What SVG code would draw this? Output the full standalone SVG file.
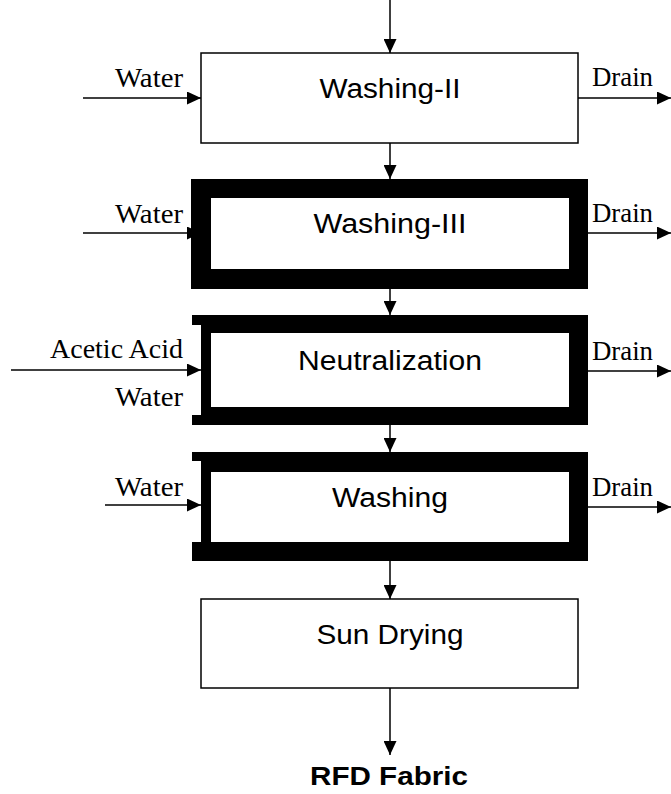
<svg xmlns="http://www.w3.org/2000/svg" width="671" height="794" viewBox="0 0 671 794">
  <style>
    .box { fill: #fff; stroke: #000; stroke-width: 1.5; }
    .thick { fill: #000; fill-rule: evenodd; }
    .flow { stroke: #000; stroke-width: 1.5; fill: none; marker-end: url(#head); }
    .title { font-family: "Liberation Sans", Arial, sans-serif; font-size: 27px; fill: #000; text-anchor: middle; }
    .side { font-family: "Liberation Serif", "Times New Roman", serif; font-size: 27px; fill: #000; }
    .out { font-family: "Liberation Sans", Arial, sans-serif; font-size: 25px; font-weight: bold; fill: #000; text-anchor: middle; }
  </style>
  <defs>
    <marker id="head" markerUnits="userSpaceOnUse" markerWidth="14" markerHeight="13" refX="14" refY="6.5" orient="auto">
      <path d="M0,0 L14,6.5 L0,13 Z" fill="#000"/>
    </marker>
  </defs>

  <rect width="671" height="794" fill="#fff"/>

  <!-- process steps -->
  <g id="washing-ii">
    <rect class="box" x="201" y="53" width="377" height="90"/>
    <text class="title" x="390" y="98" textLength="141" lengthAdjust="spacingAndGlyphs">Washing-II</text>
  </g>

  <g id="washing-iii">
    <path class="thick" d="M191,179 H588 V289 H191 Z M211,198 V269 H569 V198 Z"/>
    <text class="title" x="390" y="233" textLength="153" lengthAdjust="spacingAndGlyphs">Washing-III</text>
  </g>

  <g id="neutralization">
    <path class="thick" d="M192,315 H588 V425 H192 V415 H201 V325 H192 Z M211,333 V407 H569 V333 Z"/>
    <text class="title" x="390" y="370" textLength="184" lengthAdjust="spacingAndGlyphs">Neutralization</text>
  </g>

  <g id="washing">
    <path class="thick" d="M192,452 H588 V561 H192 V542 H201 V461 H192 Z M211,472 V542 H569 V472 Z"/>
    <text class="title" x="390" y="507" textLength="116" lengthAdjust="spacingAndGlyphs">Washing</text>
  </g>

  <g id="sun-drying">
    <rect class="box" x="201" y="599" width="377" height="89"/>
    <text class="title" x="390" y="644" textLength="147" lengthAdjust="spacingAndGlyphs">Sun Drying</text>
  </g>

  <g id="rfd-fabric">
    <text class="out" x="389" y="785" textLength="158" lengthAdjust="spacingAndGlyphs">RFD Fabric</text>
  </g>

  <!-- inputs and outputs -->
  <g id="streams">
    <text class="side" x="183" y="87" text-anchor="end" textLength="68" lengthAdjust="spacingAndGlyphs">Water</text>
    <text class="side" x="592" y="86" textLength="61" lengthAdjust="spacingAndGlyphs">Drain</text>
    <text class="side" x="183" y="223" text-anchor="end" textLength="68" lengthAdjust="spacingAndGlyphs">Water</text>
    <text class="side" x="592" y="222" textLength="61" lengthAdjust="spacingAndGlyphs">Drain</text>
    <text class="side" x="183" y="358" text-anchor="end" textLength="133" lengthAdjust="spacingAndGlyphs">Acetic Acid</text>
    <text class="side" x="183" y="406" text-anchor="end" textLength="68" lengthAdjust="spacingAndGlyphs">Water</text>
    <text class="side" x="592" y="360" textLength="61" lengthAdjust="spacingAndGlyphs">Drain</text>
    <text class="side" x="183" y="496" text-anchor="end" textLength="68" lengthAdjust="spacingAndGlyphs">Water</text>
    <text class="side" x="592" y="496" textLength="61" lengthAdjust="spacingAndGlyphs">Drain</text>
  </g>

  <!-- connectors -->
  <g id="connectors">
    <line class="flow" x1="390" y1="0" x2="390" y2="53"/>
    <line class="flow" x1="390" y1="143" x2="390" y2="179"/>
    <line class="flow" x1="390" y1="289" x2="390" y2="315"/>
    <line class="flow" x1="390" y1="425" x2="390" y2="452"/>
    <line class="flow" x1="390" y1="561" x2="390" y2="599"/>
    <line class="flow" x1="390" y1="688" x2="390" y2="755"/>

    <line class="flow" x1="83" y1="98" x2="201" y2="98"/>
    <line class="flow" x1="83" y1="233" x2="201" y2="233"/>
    <line class="flow" x1="11" y1="370" x2="201" y2="370"/>
    <line class="flow" x1="105" y1="505" x2="201" y2="505"/>

    <line class="flow" x1="578" y1="98" x2="671" y2="98"/>
    <line class="flow" x1="588" y1="233" x2="671" y2="233"/>
    <line class="flow" x1="588" y1="371" x2="671" y2="371"/>
    <line class="flow" x1="588" y1="507" x2="671" y2="507"/>
  </g>
</svg>
